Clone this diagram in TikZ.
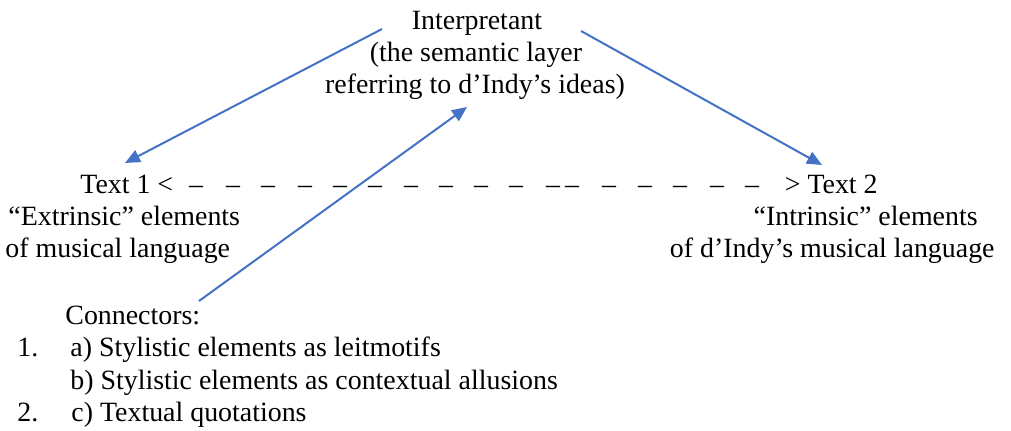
\documentclass[tikz,border=0pt]{standalone}
\usepackage{fontspec}
\setmainfont{Liberation Serif}
\usetikzlibrary{arrows.meta}
\definecolor{wblue}{HTML}{4472C4}
\begin{document}
\begin{tikzpicture}[x=0.5pt,y=-0.5pt,
  txt/.style={inner sep=0pt, font=\fontsize{13.95}{16}\selectfont, anchor=base west},
  ctxt/.style={txt, anchor=base},
  rtxt/.style={txt, anchor=base east},
  conn/.style={draw=wblue, line width=1pt, -{Triangle[length=7.5pt,width=6.5pt]}}]
\useasboundingbox (0,0) rectangle (1011,431);
% Interpretant
\node[ctxt] (interp1) at (477,30) {Interpretant};
\node[ctxt] (interp2) at (476,62) {(the semantic layer};
\node[ctxt] (interp3) at (475,94) {referring to d’Indy’s ideas)};
% Text 1 / Text 2 row
\node[txt] (t1) at (80,194) {Text 1 <};
\foreach \x [count=\i] in {196,233,268,305,340,375,411,446,481,516,553,572,609,645,680,717,752}
  \node[ctxt] (d\i) at (\x,194) {–};
\node[rtxt] (t2) at (878,194) {> Text 2};
\node[txt] (ext1) at (8,226) {“Extrinsic” elements};
\node[txt] (ext2) at (5,258) {of musical language};
\node[rtxt] (int1) at (978,226) {“Intrinsic” elements};
\node[rtxt] (int2) at (995,258) {of d’Indy’s musical language};
% Connectors list
\node[txt] (con) at (65,325) {Connectors:};
\node[txt] (n1) at (17,357) {1.};
\node[txt] (ca) at (70,357) {a) Stylistic elements as leitmotifs};
\node[txt] (cb) at (70,390) {b) Stylistic elements as contextual allusions};
\node[txt] (n2) at (17,422) {2.};
\node[txt] (cc) at (71,422) {c) Textual quotations};
% arrow end points
\coordinate (lS) at (382,29);
\coordinate (lT) at (125,163);
\coordinate (rS) at (581,31);
\coordinate (rT) at (822,165);
\coordinate (uS) at (199,301);
\coordinate (uT) at (467,107);
\draw[conn] (lS) -- (lT);
\draw[conn] (rS) -- (rT);
\draw[conn] (uS) -- (uT);
\end{tikzpicture}
\end{document}
